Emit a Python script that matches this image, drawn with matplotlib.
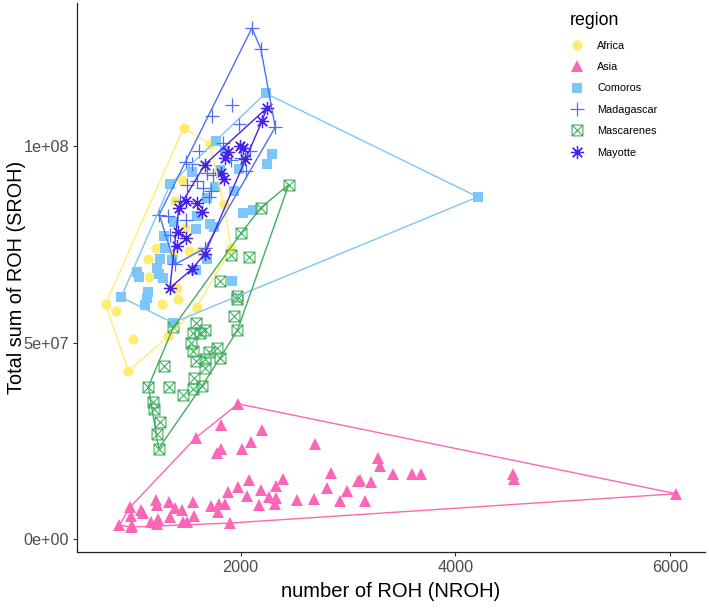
import numpy as np
import matplotlib
matplotlib.use("Agg")
import matplotlib.pyplot as plt
from matplotlib.path import Path
from matplotlib.lines import Line2D

plt.rcParams['font.family'] = ['Liberation Sans', 'DejaVu Sans']

# values: x = NROH, y = SROH in millions
regions = ['Africa', 'Asia', 'Comoros', 'Madagascar', 'Mascarenes', 'Mayotte']

africa_x = [1468, 1714, 1840, 1910, 1589, 1418, 1267, 1148, 1132, 1209, 1519, 1619,
            1390, 1480, 1450, 741, 838, 1403, 1366, 1000, 1325, 954]
africa_y = [104.66, 100.59, 85.42, 73.97, 59.03, 60.99, 59.72, 66.84, 71.17, 73.97, 73.28, 73.28,
            86.01, 79.21, 91.42, 59.87, 58.02, 63.87, 72.19, 50.81, 51.65, 42.75]

asia_x = [870, 1975, 1582, 970, 976, 1814, 2198, 2093, 2696, 1784, 1821, 2012, 2845, 3095,
          2074, 1975, 1882, 2396, 2328, 2192, 2807, 2990, 2062, 2260, 2328, 2318, 2167, 2526,
          2680, 2928, 1211, 1218, 1335, 1387, 1452, 1557, 1728, 1799, 1854, 1793, 1561, 1075,
          1088, 979, 988, 1338, 1230, 1168, 1223, 1465, 1496, 1901, 3281, 3302, 3216, 3111,
          3423, 3599, 3680, 3154, 4540, 4546, 6058]
asia_y = [3.56, 34.43, 25.78, 8.14, 3.05, 28.93, 27.74, 24.68, 24.25, 21.96, 22.82, 22.98,
          16.79, 14.76, 15.01, 13.23, 11.96, 15.34, 13.41, 12.47, 12.90, 12.21, 10.87, 10.61,
          10.51, 8.83, 8.58, 9.92, 10.10, 9.67, 9.85, 8.65, 9.49, 7.96, 7.30, 9.49, 8.32, 8.83,
          8.83, 6.87, 5.93, 7.30, 6.69, 5.93, 3.38, 5.52, 5.17, 4.25, 3.89, 4.40, 4.40, 4.07,
          20.53, 18.58, 14.58, 15.01, 16.46, 16.62, 16.62, 9.59, 16.62, 15.19, 11.53]

comoros_x = [2232, 4209, 1774, 2288, 2244, 1550, 1343, 1761, 2021, 2119, 1919, 886, 1369,
             1983, 1941, 1858, 1378, 1582, 1712, 1747, 1287, 1248, 1293, 1035, 1053, 1219,
             1239, 1276, 1140, 1128, 1109, 1684, 1585, 1361, 1682, 1594, 1805]
comoros_y = [113.49, 87.10, 101.45, 98.04, 95.50, 93.56, 90.28, 89.75, 83.00, 83.77, 65.65,
             61.58, 55.04, 94.20, 88.68, 98.83, 80.84, 78.96, 80.08, 79.52, 77.15, 71.42,
             74.12, 68.09, 66.59, 69.03, 67.43, 66.49, 62.98, 61.40, 59.62, 71.25, 68.45,
             71.07, 86.85, 82.19, 94.07]

madagascar_x = [2105, 2188, 2322, 1916, 1737, 1981, 1242, 1490, 1836, 1589, 1743, 1650,
                1728, 1703, 1496, 1490, 1341, 1672, 2053, 2084, 1914, 1682, 1387, 1613,
                1545, 2000, 1434, 1323]
madagascar_y = [130.10, 124.76, 104.83, 110.61, 107.63, 105.67, 82.62, 95.93, 100.84, 91.09,
                92.80, 89.39, 88.55, 87.02, 90.25, 81.35, 77.53, 74.12, 93.64, 98.73, 96.62,
                93.21, 69.90, 98.73, 95.42, 96.95, 86.01, 82.19]

mascarenes_x = [2448, 2186, 2006, 1907, 2074, 1812, 1965, 1965, 1935, 1374, 1584, 1668,
                1970, 1557, 1619, 1536, 1557, 1706, 1780, 1808, 1582, 1666, 1672, 1285,
                1561, 1638, 1552, 1465, 1332, 1140, 1181, 1193, 1253, 1216, 1236]
mascarenes_y = [90.26, 84.30, 77.94, 72.44, 71.83, 65.60, 61.96, 61.07, 56.74, 53.99, 54.91,
                53.26, 53.13, 52.34, 52.34, 49.80, 47.84, 47.66, 48.53, 46.13, 45.29, 45.88,
                43.44, 44.02, 41.04, 38.93, 38.17, 36.64, 38.80, 38.80, 34.94, 33.21, 29.90,
                26.79, 23.03]

mayotte_x = [2244, 2198, 1991, 2021, 1882, 1858, 2037, 1666, 1821, 1842, 1596, 1638, 1488,
             1423, 1420, 1492, 1403, 1666, 1542, 1341]
mayotte_y = [109.75, 106.36, 100.13, 99.57, 98.47, 97.02, 96.82, 95.34, 93.21, 91.65, 85.57,
             83.26, 86.01, 84.30, 78.12, 76.67, 74.55, 72.60, 68.63, 63.94]

colors = ['#FFEC70', '#FB67B6', '#7CC6F9', '#4D6EF6', '#41AD5E', '#4522E6']

# square with a cross inside (ggplot shape 7)
box_x = Path([(-1, -1), (1, -1), (1, 1), (-1, 1), (-1, -1), (-1, -1), (1, 1), (-1, 1), (1, -1)],
             [Path.MOVETO, Path.LINETO, Path.LINETO, Path.LINETO, Path.CLOSEPOLY,
              Path.MOVETO, Path.LINETO, Path.MOVETO, Path.LINETO])

styles = [
    dict(marker='o', markersize=7.3, markeredgewidth=0),
    dict(marker='^', markersize=9.0, markeredgewidth=0),
    dict(marker='s', markersize=7.3, markeredgewidth=0),
    dict(marker='+', markersize=10.5, markeredgewidth=0.9),
    dict(marker=box_x, markersize=7.8, markeredgewidth=0.8, markerfacecolor='none'),
    dict(marker=(8, 2, 0), markersize=9.5, markeredgewidth=0.9),
]

data_x = [africa_x, asia_x, comoros_x, madagascar_x, mascarenes_x, mayotte_x]
data_y = [africa_y, asia_y, comoros_y, madagascar_y, mascarenes_y, mayotte_y]


def convex_hull(pts):
    pts = sorted(set(map(tuple, pts)))
    def cross(o, a, b):
        return (a[0] - o[0]) * (b[1] - o[1]) - (a[1] - o[1]) * (b[0] - o[0])
    lower, upper = [], []
    for p in pts:
        while len(lower) >= 2 and cross(lower[-2], lower[-1], p) <= 0:
            lower.pop()
        lower.append(p)
    for p in reversed(pts):
        while len(upper) >= 2 and cross(upper[-2], upper[-1], p) <= 0:
            upper.pop()
        upper.append(p)
    hull = lower[:-1] + upper[:-1]
    return np.array(hull + [hull[0]])


fig = plt.figure(figsize=(7.09, 6.12), dpi=100)
ax = fig.add_axes([0.1086, 0.098, 0.8855, 0.897])

handles = []
for name, xs, ys, col, st in zip(regions, data_x, data_y, colors, styles):
    x = np.array(xs, dtype=float)
    y = np.array(ys) * 1e6
    kw = dict(st)
    kw.setdefault('markerfacecolor', col)
    ax.plot(x, y, linestyle='none', color=col, markeredgecolor=col, **kw)
    handles.append(Line2D([], [], linestyle='none', color=col, markeredgecolor=col,
                          label=name, **kw))

for xs, ys, col in zip(data_x, data_y, colors):
    h = convex_hull(np.column_stack([xs, np.array(ys) * 1e6]))
    ax.plot(h[:, 0], h[:, 1], color=col, lw=1.0)

# ggplot style 5% expansion
allx = np.concatenate([np.array(v, dtype=float) for v in data_x])
ally = np.concatenate([np.array(v) * 1e6 for v in data_y])
dx = (allx.max() - allx.min()) * 0.05
dy = (ally.max() - ally.min()) * 0.05
ax.set_xlim(allx.min() - dx, allx.max() + dx)
ax.set_ylim(ally.min() - dy, ally.max() + dy)

ax.set_xticks([2000, 4000, 6000])
ax.set_yticks([0, 5e7, 1e8])
ax.set_yticklabels(['0e+00', '5e+07', '1e+08'])
ax.tick_params(colors='#333333', labelcolor='#4D4D4D', labelsize=11.7, length=3, width=0.8,
               pad=2.5)
for s in ['top', 'right']:
    ax.spines[s].set_visible(False)
for s in ['left', 'bottom']:
    ax.spines[s].set_color('#222222')
    ax.spines[s].set_linewidth(0.9)

ax.set_xlabel('number of ROH (NROH)', fontsize=14.5, labelpad=5)
ax.set_ylabel('Total sum of ROH (SROH)', fontsize=14.3)
ax.yaxis.set_label_coords(-0.082, 0.5)

leg = ax.legend(handles=handles, title='region', loc='upper left',
                bbox_to_anchor=(0.772, 0.997), frameon=False, fontsize=7.8,
                title_fontsize=12.8, labelspacing=1.05, handlelength=1.4,
                handletextpad=1.2, borderpad=0.2)
leg._legend_box.align = 'left'

fig.savefig('out.png', dpi=100)
